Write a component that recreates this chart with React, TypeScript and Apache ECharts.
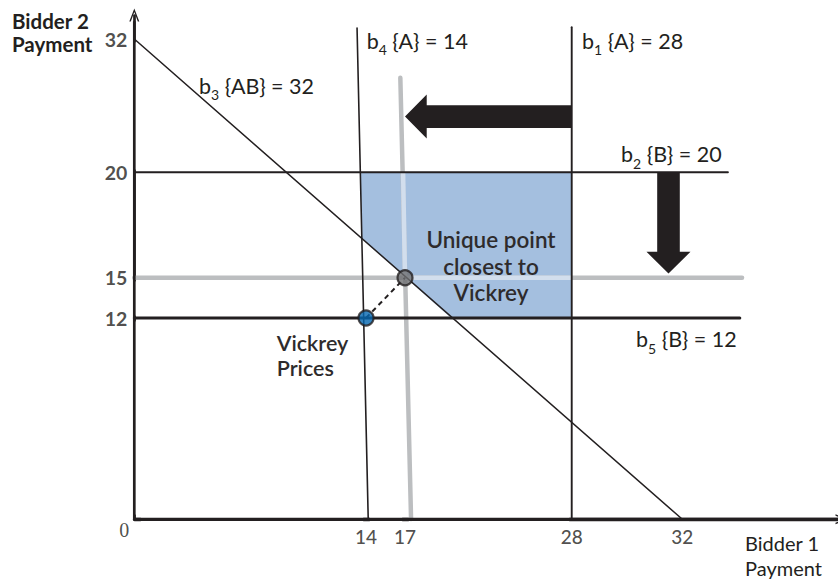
import React, { useEffect, useRef } from 'react';
import * as echarts from 'echarts';

// ---- data ----
const xTicks = [14, 17, 28, 32];
const yTicks = [12, 15, 20, 32];
const originTick = [0];

const b3Line = [[0, 32], [32, 0]];
const b4Line = [[13.52, 32.52], [14.08, 0]];
const b1Line = [[28, 32.56], [28, 0]];
const b2Line = [[0, 20], [33.65, 20]];
const b5Line = [[0, 12], [34.08, 12]];
const grey15Line = [[0, 15], [34.16, 15]];
const grey17Line = [[16.74, 28.55], [17.32, 0]];
const core15Seg = [[17, 15], [28, 15]];
const core17Seg = [[16.93, 20], [17, 15]];
const coreRegion = [[13.73, 20], [28, 20], [28, 12], [20, 12], [13.82, 16.85]];
const vickreyPoint = [14, 12];
const closestPoint = [17, 15];
const moveArrows = [
  [28, 25, 17, 25],
  [31.5, 20, 31.5, 15.2],
];

// ---- layout / styles ----
const X_MAX = 37.775;
const Y_MAX = 33.1385;
const INK = '#231f20';
const GREY = '#bcbec0';
const LIGHT = '#d2deed';
const CORE = '#a4bfdf';
const FONT = 'Lato, "Noto Sans", sans-serif';

function lineSeries(data: number[][], color: string, width: number, z: number, extra: any = {}, clip = true) {
  return {
    type: 'line',
    data,
    symbol: 'none',
    silent: true,
    clip,
    z,
    lineStyle: { color, width, cap: 'round', ...extra },
  };
}

function arrowItem(_params: any, api: any) {
  const p1 = api.coord([api.value(0), api.value(1)]);
  const p2 = api.coord([api.value(2), api.value(3)]);
  const dx = p2[0] - p1[0];
  const dy = p2[1] - p1[1];
  const len = Math.hypot(dx, dy) || 1;
  const ux = dx / len, uy = dy / len;
  const nx = -uy, ny = ux;
  const sw = 11.3, hw = 22, hl = 21.7;
  const bx = p2[0] - ux * hl, by = p2[1] - uy * hl;
  const pts = [
    [p1[0] + nx * sw, p1[1] + ny * sw],
    [bx + nx * sw, by + ny * sw],
    [bx + nx * hw, by + ny * hw],
    [p2[0], p2[1]],
    [bx - nx * hw, by - ny * hw],
    [bx - nx * sw, by - ny * sw],
    [p1[0] - nx * sw, p1[1] - ny * sw],
  ];
  return { type: 'polygon', shape: { points: pts }, style: { fill: INK } };
}

function regionItem(_params: any, api: any) {
  return {
    type: 'polygon',
    shape: { points: coreRegion.map((p) => api.coord(p)) },
    style: { fill: CORE },
  };
}

const chevron = 'path://M0,13 L5,0 L10,13 L8.5,13 L5,3.6 L1.5,13 Z';

function bLabel(x: number, y: number, main: string, sub: string, rest: string) {
  return {
    type: 'text',
    x,
    y,
    z: 50,
    style: {
      text: `${main}{s|${sub}}${rest}`,
      fontSize: 21.5,
      fontFamily: FONT,
      fill: INK,
      verticalAlign: 'middle',
      align: 'left',
      rich: {
        s: { fontSize: 14, fontFamily: FONT, fill: INK, verticalAlign: 'bottom', lineHeight: 32 },
      },
    },
  };
}

function tickLabels(data: number[][], idx: number, position: string, distance: number, font: any) {
  return {
    type: 'scatter',
    data,
    symbolSize: 0,
    itemStyle: { color: INK },
    silent: true,
    z: 8,
    label: {
      show: true,
      position,
      distance,
      formatter: (p: any) => String(p.value[idx]),
      color: INK,
      ...font,
    },
  };
}

function buildOption(): any {
  return {
    animation: false,
    backgroundColor: '#ffffff',
    textStyle: { fontFamily: FONT },
    grid: { left: 134.3, top: 15, width: 707.7, height: 504.3, outerBoundsMode: 'none' },
    xAxis: {
      type: 'value',
      min: 0,
      max: X_MAX,
      breaks: [
        { start: 0.2, end: 13.9, gap: 8.08 },
        { start: 14.1, end: 16.9, gap: 1.2105 },
        { start: 17.1, end: 27.9, gap: 5.829 },
      ],
      breakArea: { show: false, itemStyle: { opacity: 0, borderWidth: 0 }, zigzagAmplitude: 0 },
      axisLine: {
        show: true,
        onZero: false,
        symbol: ['none', chevron],
        symbolSize: [11, 13],
        lineStyle: { color: INK, width: 3.3 },
      },
      axisTick: { show: false },
      axisLabel: { show: false },
      splitLine: { show: false },
    },
    yAxis: {
      type: 'value',
      min: 0,
      max: Y_MAX,
      breaks: [
        { start: 0.2, end: 11.9, gap: 9.249 },
        { start: 12.1, end: 14.9, gap: 1.7116 },
        { start: 20.1, end: 31.9, gap: 6.1235 },
      ],
      breakArea: { show: false, itemStyle: { opacity: 0, borderWidth: 0 }, zigzagAmplitude: 0 },
      axisLine: {
        show: true,
        onZero: false,
        symbol: ['none', chevron],
        symbolSize: [11, 13],
        lineStyle: { color: INK, width: 2.7 },
      },
      axisTick: { show: false },
      axisLabel: { show: false },
      splitLine: { show: false },
    },
    series: [
      {
        type: 'custom',
        renderItem: regionItem,
        data: [coreRegion[0]],
        silent: true,
        z: 1,
      },
      lineSeries(grey15Line, GREY, 4.5, 2),
      lineSeries(grey17Line, GREY, 4.5, 2),
      lineSeries(core15Seg, LIGHT, 4.5, 3, { cap: 'butt' }),
      lineSeries(core17Seg, LIGHT, 4.5, 3, { cap: 'butt' }),
      lineSeries(b3Line, INK, 1.5, 4),
      lineSeries(b4Line, INK, 1.6, 4),
      lineSeries(b1Line, INK, 1.9, 4),
      lineSeries(b2Line, INK, 1.9, 4),
      lineSeries(b5Line, INK, 3, 4),
      // full-length axis lines (the axis' own line is interrupted at the scale breaks)
      lineSeries([[0, 0], [X_MAX, 0]], INK, 3.3, 9, { cap: 'butt' }, false),
      lineSeries([[0, 0], [0, Y_MAX - 0.3]], INK, 2.7, 9, { cap: 'butt' }, false),
      lineSeries([vickreyPoint, closestPoint], INK, 2, 5, { type: [5, 4], cap: 'butt' }),
      {
        type: 'scatter',
        data: [vickreyPoint],
        symbol: 'circle',
        symbolSize: 15,
        silent: true,
        z: 6,
        itemStyle: { color: '#0466b0', borderColor: INK, borderWidth: 2.2 },
      },
      {
        type: 'scatter',
        data: [closestPoint],
        symbol: 'circle',
        symbolSize: 15,
        silent: true,
        z: 6,
        itemStyle: { color: '#6d6e71', borderColor: INK, borderWidth: 2.2 },
      },
      {
        type: 'custom',
        renderItem: arrowItem,
        data: moveArrows,
        encode: { x: [0, 2], y: [1, 3] },
        silent: true,
        z: 7,
      },
      tickLabels(xTicks.map((v) => [v, 0]), 0, 'bottom', 7, {
        fontFamily: FONT,
        fontWeight: 500,
        fontSize: 19,
        lineHeight: 20,
      }),
      tickLabels(yTicks.map((v) => [0, v]), 1, 'left', 7, {
        fontFamily: FONT,
        fontWeight: 'bold',
        fontSize: 19.5,
      }),
      tickLabels(originTick.map((v) => [v, v]), 0, 'bottom', 0, {
        offset: [-10, 1],
        fontFamily: '"Liberation Serif", "DejaVu Serif", serif',
        fontSize: 20,
        lineHeight: 20,
      }),
    ],
    graphic: [
      {
        type: 'text',
        x: 12,
        y: 32,
        style: {
          text: 'Bidder 2\nPayment',
          fontSize: 20.5,
          fontWeight: 'bold',
          fontFamily: FONT,
          fill: INK,
          lineHeight: 23,
          verticalAlign: 'middle',
        },
      },
      {
        type: 'text',
        x: 745,
        y: 555.5,
        style: {
          text: 'Bidder 1\nPayment',
          fontSize: 20,
          fontFamily: FONT,
          fill: INK,
          lineHeight: 25,
          verticalAlign: 'middle',
        },
      },
      bLabel(199, 85.5, 'b', '3', ' {AB} = 32'),
      bLabel(366.7, 40.5, 'b', '4', ' {A} = 14'),
      bLabel(582, 40.5, 'b', '1', ' {A} = 28'),
      bLabel(621, 154, 'b', '2', ' {B} = 20'),
      bLabel(636, 339, 'b', '5', ' {B} = 12'),
      {
        type: 'text',
        x: 491,
        y: 266,
        z: 50,
        style: {
          text: 'Unique point\nclosest to\nVickrey',
          fontSize: 22.5,
          fontWeight: 600,
          fontFamily: FONT,
          fill: '#2e2b2c',
          lineHeight: 26.7,
          align: 'center',
          verticalAlign: 'middle',
        },
      },
      {
        type: 'text',
        x: 276.7,
        y: 355,
        z: 50,
        style: {
          text: 'Vickrey\nPrices',
          fontSize: 21.5,
          fontWeight: 600,
          fontFamily: FONT,
          fill: '#2e2b2c',
          lineHeight: 25,
          align: 'left',
          verticalAlign: 'middle',
        },
      },
    ],
  };
}

export default function App() {
  const ref = useRef<HTMLDivElement>(null);
  useEffect(() => {
    document.body.style.margin = '0';
    const chart = echarts.init(ref.current as HTMLDivElement, null, { renderer: 'svg' });
    chart.setOption(buildOption());
    return () => chart.dispose();
  }, []);
  return <div ref={ref} style={{ width: 838, height: 583 }} />;
}
